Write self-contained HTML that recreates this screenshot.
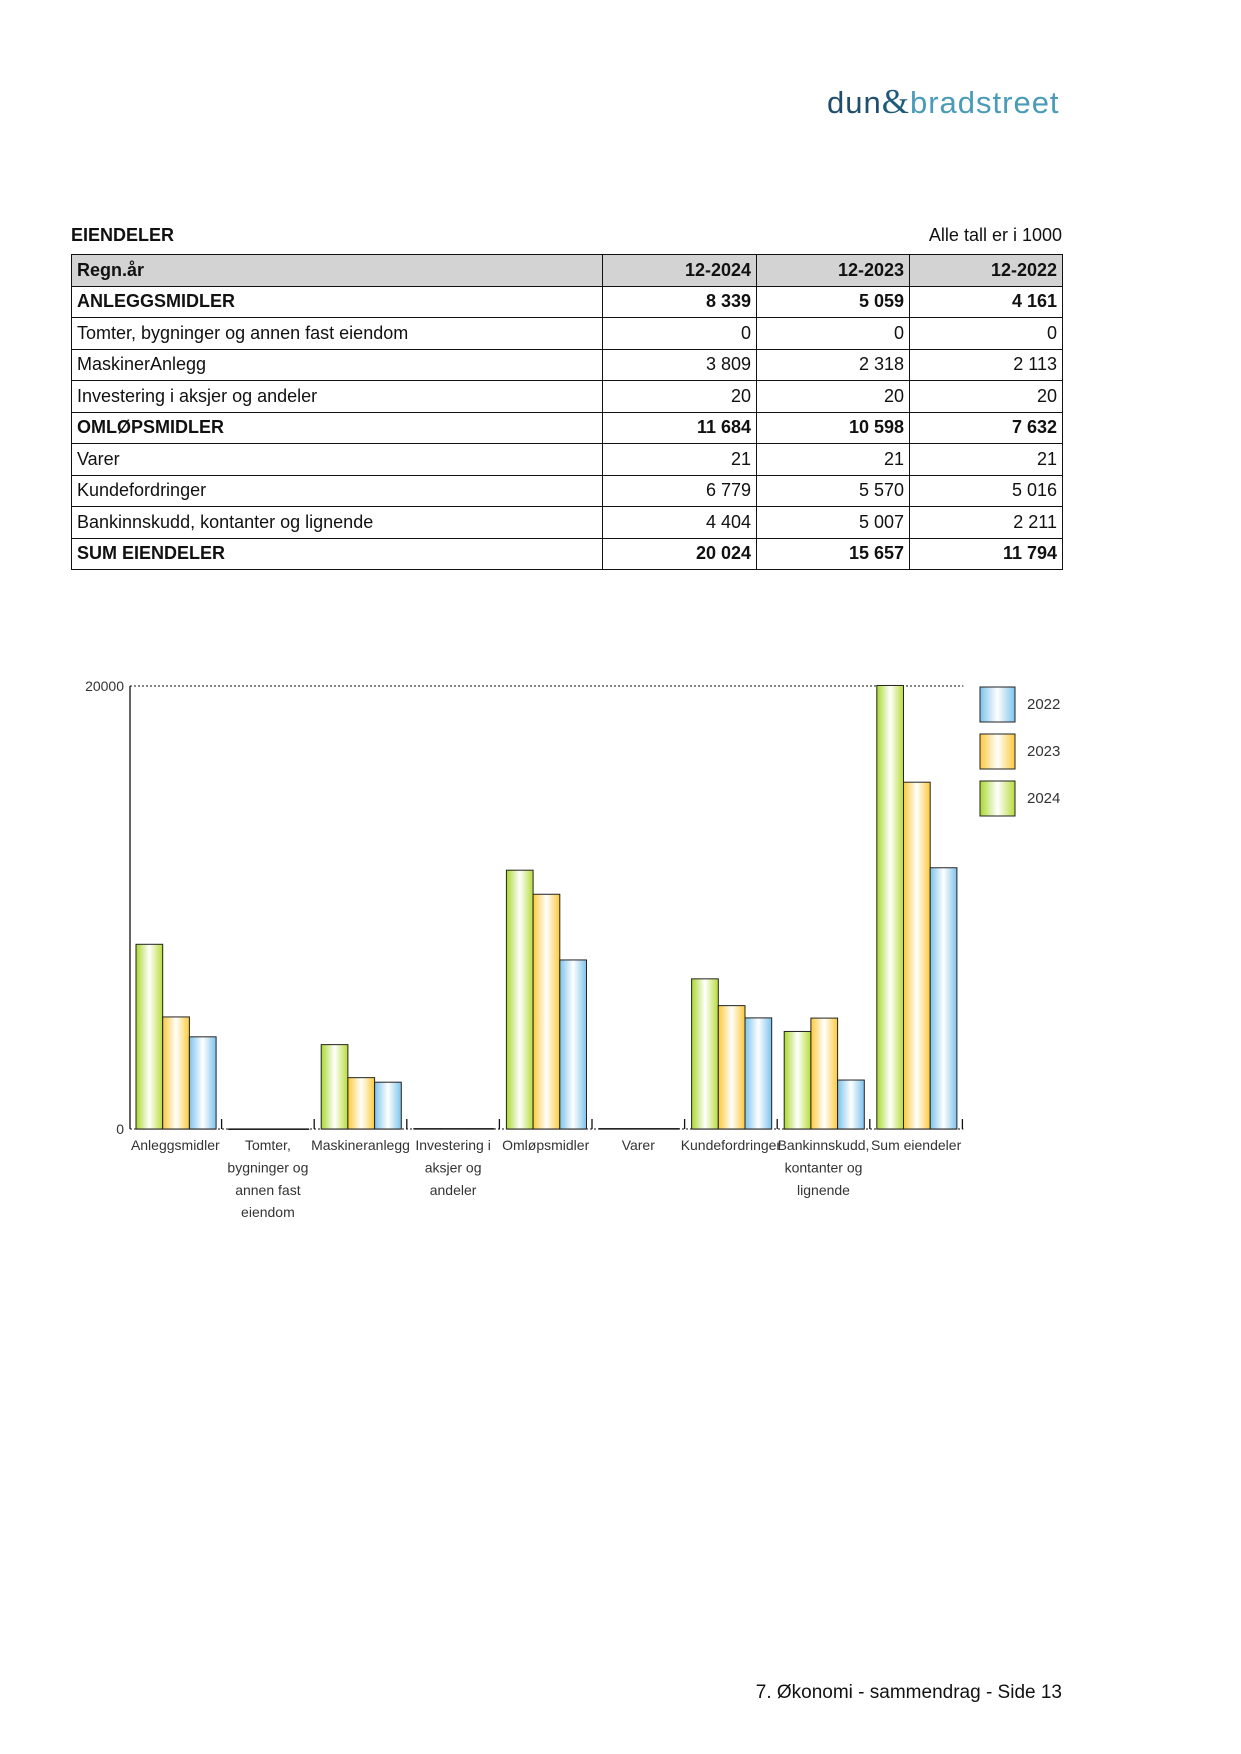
<!DOCTYPE html>
<html><head><meta charset="utf-8"><style>
body{margin:0;width:1241px;height:1754px;background:#fff;position:relative;font-family:"Liberation Sans",sans-serif;color:#111;overflow:hidden}
.abs{position:absolute}
table{border-collapse:collapse;position:absolute;left:71px;top:254px;width:991px;table-layout:fixed;font-size:18px}
td{border:1.5px solid #111;height:30.5px;padding:0 5px;white-space:nowrap}
td.n{text-align:right}
tr.h td{background:#d3d3d3;font-weight:bold}
tr.b td{font-weight:bold}
</style></head><body>
<div class="abs" style="left:827px;top:82px;font-size:31px;letter-spacing:1px"><span style="color:#1f4e6e">dun</span><span style="color:#1f5a7a;font-family:'Liberation Serif',serif;font-size:35px">&amp;</span><span style="color:#4a9bb8">bradstreet</span></div>
<div class="abs" style="left:71px;top:225px;font-size:18px;font-weight:bold">EIENDELER</div>
<div class="abs" style="right:179px;top:225px;font-size:18px">Alle tall er i 1000</div>
<table>
<colgroup><col style="width:531px"><col style="width:154px"><col style="width:153px"><col style="width:153px"></colgroup>
<tr class="h"><td>Regn.år</td><td class="n">12-2024</td><td class="n">12-2023</td><td class="n">12-2022</td></tr>
<tr class="b"><td>ANLEGGSMIDLER</td><td class="n">8 339</td><td class="n">5 059</td><td class="n">4 161</td></tr>
<tr><td>Tomter, bygninger og annen fast eiendom</td><td class="n">0</td><td class="n">0</td><td class="n">0</td></tr>
<tr><td>MaskinerAnlegg</td><td class="n">3 809</td><td class="n">2 318</td><td class="n">2 113</td></tr>
<tr><td>Investering i aksjer og andeler</td><td class="n">20</td><td class="n">20</td><td class="n">20</td></tr>
<tr class="b"><td>OMLØPSMIDLER</td><td class="n">11 684</td><td class="n">10 598</td><td class="n">7 632</td></tr>
<tr><td>Varer</td><td class="n">21</td><td class="n">21</td><td class="n">21</td></tr>
<tr><td>Kundefordringer</td><td class="n">6 779</td><td class="n">5 570</td><td class="n">5 016</td></tr>
<tr><td>Bankinnskudd, kontanter og lignende</td><td class="n">4 404</td><td class="n">5 007</td><td class="n">2 211</td></tr>
<tr class="b"><td>SUM EIENDELER</td><td class="n">20 024</td><td class="n">15 657</td><td class="n">11 794</td></tr>
</table>
<svg id="chart" class="abs" style="left:0;top:0" width="1241" height="1754">
<defs>
<linearGradient id="gG" x1="0" x2="1"><stop offset="0" stop-color="#a9d82e"/><stop offset="0.5" stop-color="#ffffff"/><stop offset="1" stop-color="#b8dc3a"/></linearGradient>
<linearGradient id="gO" x1="0" x2="1"><stop offset="0" stop-color="#fcc93a"/><stop offset="0.5" stop-color="#ffffff"/><stop offset="1" stop-color="#fcc93a"/></linearGradient>
<linearGradient id="gB" x1="0" x2="1"><stop offset="0" stop-color="#7cc3ec"/><stop offset="0.5" stop-color="#ffffff"/><stop offset="1" stop-color="#7cc3ec"/></linearGradient>
</defs>
</svg>
<div class="abs" style="right:179px;top:1682px;font-size:19px">7. Økonomi - sammendrag - Side 13</div>
<script>
const categories=[["Anleggsmidler"],["Tomter,","bygninger og","annen fast","eiendom"],["Maskineranlegg"],["Investering i","aksjer og","andeler"],["Omløpsmidler"],["Varer"],["Kundefordringer"],["Bankinnskudd,","kontanter og","lignende"],["Sum eiendeler"]];
const values2024=[8339,0,3809,20,11684,21,6779,4404,20024];
const values2023=[5059,0,2318,20,10598,21,5570,5007,15657];
const values2022=[4161,0,2113,20,7632,21,5016,2211,11794];
const yTicks=[0,20000];
const legendYears=["2022","2023","2024"];
const svg=document.getElementById('chart');
const NS='http://www.w3.org/2000/svg';
const x0=130,catW=92.6,y0=1129,yTop=686,yMax=20000;
const y=v=>y0-(v/yMax)*(y0-yTop);
const xc=i=>x0+i*catW;
function mk(t,a){const e=document.createElementNS(NS,t);for(const k in a)e.setAttribute(k,a[k]);svg.appendChild(e);return e;}
let ax=mk('line',{x1:x0,y1:yTop,x2:x0,y2:y0,stroke:'#111','stroke-width':1.3});


let gl=mk('line',{x1:x0,y1:y(20000),x2:xc(9),y2:y(20000),stroke:'#111','stroke-width':1,'stroke-dasharray':'2,2'});


let bl=mk('line',{x1:x0,y1:y0,x2:xc(9),y2:y0,stroke:'#111','stroke-width':1,'stroke-dasharray':'2,2'});


yTicks.forEach(t=>{const e=mk('text',{x:x0-6,y:y(t)+5,'text-anchor':'end','font-size':14,fill:'#333'});e.textContent=t;

});
const series=[[values2024,'url(#gG)'],[values2023,'url(#gO)'],[values2022,'url(#gB)']];
const bw=26.7;
categories.forEach((c,i)=>{
  const tk=mk('line',{x1:xc(i+1)-1,y1:y0-10,x2:xc(i+1)-1,y2:y0,stroke:'#111','stroke-width':1.3});
  
  
  const sl=mk('line',{x1:xc(i)+6,y1:y0,x2:xc(i)+6+3*bw,y2:y0,stroke:'#111','stroke-width':1.3});
  
  
  series.forEach((s,j)=>{
    const v=s[0][i];const top=y(v);
    const r=mk('rect',{x:xc(i)+6+j*bw,y:top,width:bw,height:Math.max(y0-top,0.5),fill:s[1],stroke:'#222','stroke-width':1});
    
    
  });
  c.forEach((ln,k)=>{const t=mk('text',{x:xc(i)+catW/2-1,y:y0+21+k*22.4,'text-anchor':'middle','font-size':14,fill:'#333'});t.textContent=ln;
  
  });
});
const lg=['url(#gB)','url(#gO)','url(#gG)'];
legendYears.forEach((yr,k)=>{
  const r=mk('rect',{x:980,y:687+k*47,width:35,height:35,fill:lg[k],stroke:'#222','stroke-width':1});
  
  
  const t=mk('text',{x:1027,y:709+k*47,'font-size':15,fill:'#333'});t.textContent=yr;
  
  
});
</script>
</body></html>
